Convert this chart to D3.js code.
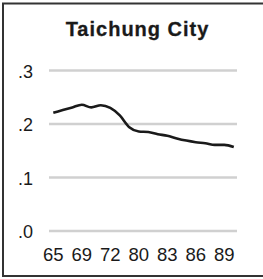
<!DOCTYPE html>
<html><head><meta charset="utf-8">
<script src="https://cdn.jsdelivr.net/npm/d3@7"></script>
<style>html,body{margin:0;padding:0;background:#fff;}svg{display:block;}</style>
</head><body>
<svg id="c" width="263" height="279"></svg>
<script>
const title = "Taichung City";
const years = ["65","67","68","69","70","71","72","75","78","80","81","82","83","84","85","86","87","88","89","90"];
const values = [0.221,0.226,0.231,0.236,0.231,0.235,0.230,0.216,0.194,0.186,0.185,0.181,0.178,0.173,0.169,0.166,0.164,0.161,0.161,0.157];
const xTickLabels = ["65","69","72","80","83","86","89"];
const yTicks = [0, 0.1, 0.2, 0.3];
const yTickLabels = [".0", ".1", ".2", ".3"];

const svg = d3.select("#c");
svg.append("rect").attr("x",3).attr("y",3.5).attr("width",275).attr("height",272.5)
  .attr("fill","none").attr("stroke","#333").attr("stroke-width",2);

const x = d3.scalePoint().domain(years).range([53.3, 233.8]);
const y = d3.scaleLinear().domain([0, 0.3]).range([231, 70.5]);

svg.append("text").attr("x",137.5).attr("y",36).attr("text-anchor","middle")
  .attr("font-family","'Liberation Sans', Arial, sans-serif").attr("font-weight","bold")
  .attr("font-size",20).attr("letter-spacing",1).attr("fill","#1a1a1a")
  .attr("stroke","#1a1a1a").attr("stroke-width",0.3).text(title);

// gridlines
svg.append("g").selectAll("line").data(yTicks).join("line")
  .attr("x1",49).attr("x2",237).attr("y1",d=>y(d)).attr("y2",d=>y(d))
  .attr("stroke","#d0d0d0").attr("stroke-width",2.7);

// y labels
svg.append("g").selectAll("text").data(yTicks).join("text")
  .attr("x",33).attr("y",d=>y(d)+1).attr("dy","0.35em").attr("text-anchor","end")
  .attr("font-family","'Liberation Sans', Arial, sans-serif").attr("font-size",18).attr("fill","#1a1a1a")
  .text((d,i)=>yTickLabels[i]);

// x labels
svg.append("g").selectAll("text").data(xTickLabels).join("text")
  .attr("x",d=>x(d)).attr("y",260.7).attr("text-anchor","middle")
  .attr("font-family","'Liberation Sans', Arial, sans-serif").attr("font-size",18.5).attr("fill","#1a1a1a")
  .text(d=>d);

const line = d3.line().x((d,i)=>x(years[i])).y(d=>y(d)).curve(d3.curveMonotoneX);
svg.append("path").datum(values).attr("d",line).attr("fill","none")
  .attr("stroke","#1a1a1a").attr("stroke-width",2.6).attr("stroke-linejoin","round");
</script>
</body></html>
